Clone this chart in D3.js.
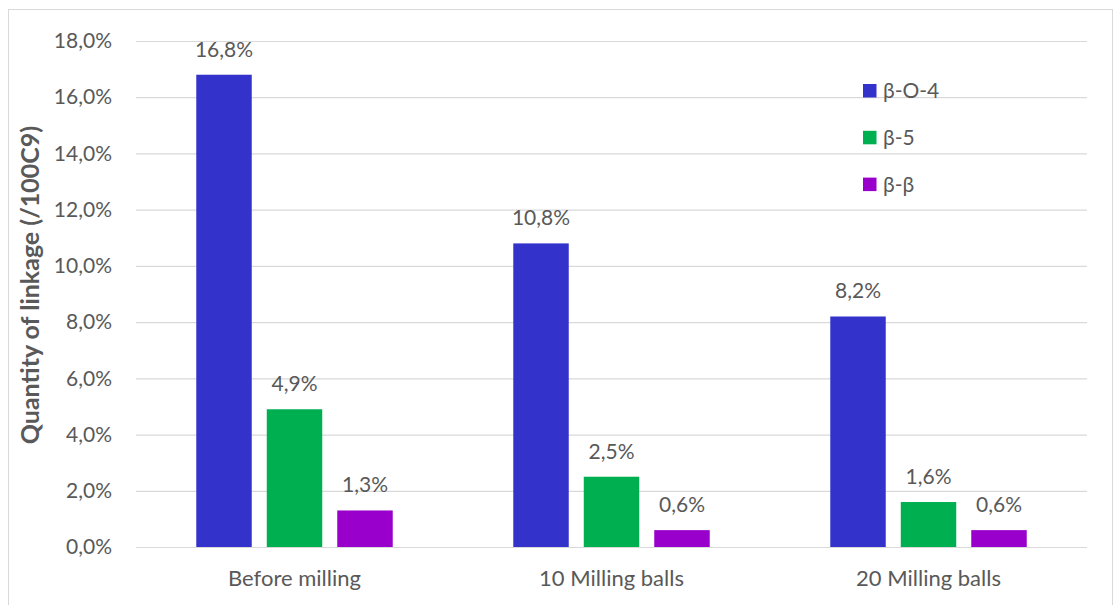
<!DOCTYPE html>
<html>
<head>
<meta charset="utf-8">
<script src="https://cdn.jsdelivr.net/npm/d3@7/dist/d3.min.js"></script>
<style>
  body { margin: 0; background: #fff; }
  svg text { font-family: Lato, "Liberation Sans", sans-serif; fill: #595959; }
</style>
</head>
<body>
<svg id="chart" width="1114" height="605"></svg>
<script>
// chart data
const categories = ["Before milling", "10 Milling balls", "20 Milling balls"];
const series = ["β-O-4", "β-5", "β-β"];
const betaO4 = [16.8, 10.8, 8.2];
const beta5 = [4.9, 2.5, 1.6];
const betaBeta = [1.3, 0.6, 0.6];
const yTicks = [0, 2, 4, 6, 8, 10, 12, 14, 16, 18];

const colors = ["#3333CC", "#00B050", "#9900CC"];
const values = [betaO4, beta5, betaBeta];

const svg = d3.select("#chart");

// outer frame
svg.append("rect")
  .attr("x", 8.5).attr("y", 9.5)
  .attr("width", 1104).attr("height", 610)
  .attr("fill", "none")
  .attr("stroke", "#D9D9D9")
  .attr("stroke-width", 1);

const plot = {left: 136, right: 1087, top: 41, bottom: 547};

const fmt = v => v.toFixed(1).replace(".", ",") + "%";

const y = d3.scaleLinear().domain([0, 18]).range([plot.bottom, plot.top]);
const x0 = d3.scaleBand().domain(categories).range([plot.left, plot.right]);
const x1 = d3.scaleBand().domain(series)
  .range([0, x0.bandwidth()])
  .paddingInner(0.213)
  .paddingOuter(0.855);

// gridlines
svg.append("g")
  .selectAll("line")
  .data(yTicks)
  .enter()
  .append("line")
  .attr("x1", plot.left).attr("x2", plot.right)
  .attr("y1", d => y(d) + 0.5).attr("y2", d => y(d) + 0.5)
  .attr("stroke", "#D9D9D9")
  .attr("stroke-width", 1.2);

// y axis tick labels
const yAxis = d3.axisLeft(y).tickValues(yTicks).tickFormat(fmt).tickSize(0).tickPadding(24);
const yg = svg.append("g").attr("transform", `translate(${plot.left},0)`).call(yAxis);
yg.select(".domain").remove();
yg.selectAll("text")
  .style("font-size", "21px")
  .style("font-family", "Lato, sans-serif")
  .attr("fill", "#595959");

// bars
const groups = svg.selectAll("g.cat")
  .data(categories)
  .enter()
  .append("g")
  .attr("class", "cat")
  .attr("transform", d => `translate(${x0(d)},0)`);

series.forEach((s, si) => {
  groups.append("rect")
    .attr("x", x1(s))
    .attr("y", (d, i) => y(values[si][i]))
    .attr("width", x1.bandwidth())
    .attr("height", (d, i) => plot.bottom - y(values[si][i]))
    .attr("fill", colors[si]);

  groups.append("text")
    .attr("x", x1(s) + x1.bandwidth() / 2)
    .attr("y", (d, i) => y(values[si][i]) - 18)
    .attr("text-anchor", "middle")
    .style("font-size", "21px")
    .text((d, i) => fmt(values[si][i]));
});

// x axis category labels
svg.selectAll("text.cat-label")
  .data(categories)
  .enter()
  .append("text")
  .attr("class", "cat-label")
  .attr("x", d => x0(d) + x0.bandwidth() / 2)
  .attr("y", 586)
  .attr("text-anchor", "middle")
  .style("font-size", "22px")
  .text(d => d);

// y axis title
svg.append("text")
  .attr("transform", "translate(39, 285) rotate(-90)")
  .attr("text-anchor", "middle")
  .style("font-size", "25px")
  .style("font-weight", "bold")
  .text("Quantity of linkage (/100C9)");

// legend
const legend = svg.append("g").attr("transform", "translate(863, 84)");
series.forEach((s, i) => {
  legend.append("rect")
    .attr("x", 0).attr("y", i * 46.8)
    .attr("width", 13.5).attr("height", 13.5)
    .attr("fill", colors[i]);
  legend.append("text")
    .attr("x", 20).attr("y", i * 46.8 + 14)
    .style("font-size", "21px")
    .text(s);
});
</script>
</body>
</html>
